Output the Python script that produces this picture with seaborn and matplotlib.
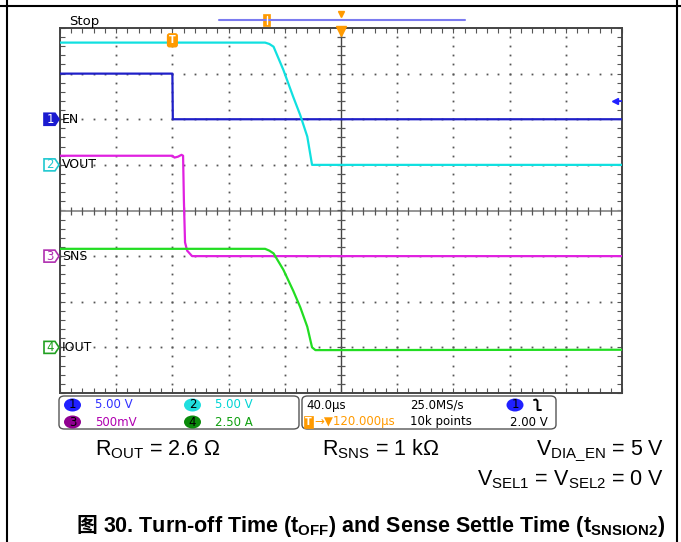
import numpy as np
import pandas as pd
import matplotlib
matplotlib.use("Agg")
import matplotlib.pyplot as plt
import matplotlib.transforms as mtransforms
from matplotlib.patches import FancyBboxPatch, Polygon, Rectangle, Ellipse
from matplotlib.lines import Line2D
import seaborn as sns

# ---------------- data (read from the oscilloscope capture) ----------------
channel_names = ["EN", "VOUT", "SNS", "IOUT"]
channel_numbers = ["1", "2", "3", "4"]
channel_scale_labels = ["5.00 V", "5.00 V", "500mV", "2.50 A"]
channel_scales = [5.0, 5.0, 0.5, 2.5]          # units per division
channel_ground_div = [2.0, 1.0, -1.0, -3.0]    # ground marker position (div)

time_en_us = [-80, 0, 0.3, 320]
en_v = [5.0, 5.0, 0.0, 0.0]

time_vout_us = [-80, 62, 66, 69, 72, 79, 86, 91, 96, 99.4, 320]
vout_v = [13.4, 13.4, 13.4, 13.25, 12.95, 10.4, 7.45, 5.45, 3.1, 0.0, 0.0]

time_sns_us = [-80, 0, 1.5, 4, 6.5, 7.6, 8.2, 9.0, 10.5, 14, 320]
sns_v = [1.10, 1.10, 1.08, 1.09, 1.11, 1.10, 0.60, 0.15, 0.06, 0.0, 0.0]

time_iout_us = [-80, 62, 66, 69, 72, 79, 86, 91, 96, 99.4, 101.8, 320]
iout_a = [5.4, 5.4, 5.4, 5.3, 5.15, 4.25, 3.1, 2.2, 1.13, 0.0, -0.15, -0.13]

time_per_div_us = 40.0
trigger_pos_us = 120.0
trigger_level_v = 2.0
x_range_us = [-80, 320]

info_right_row1 = ["40.0µs", "25.0MS/s", "2.00 V"]
info_right_row2 = ["→▼120.000µs", "10k points"]
cond_left = r"R$_{\mathrm{OUT}}$ = 2.6 Ω"
cond_mid = r"R$_{\mathrm{SNS}}$ = 1 kΩ"
cond_right1 = r"V$_{\mathrm{DIA\_EN}}$ = 5 V"
cond_right2 = r"V$_{\mathrm{SEL1}}$ = V$_{\mathrm{SEL2}}$ = 0 V"
caption_cjk = "图"
caption_rest = r"30. Turn-off Time (t$_{\mathbf{OFF}}$) and Sense Settle Time (t$_{\mathbf{SNSION2}}$)"

trace_colors = ["#1f1fc8", "#10e0e0", "#e020e0", "#22dd22"]
marker_colors = ["#1a1ad0", "#20c8d0", "#b030b0", "#20a020"]
panel_text_colors = ["#3030ff", "#00d4d4", "#b000b0", "#10a010"]
panel_circle_colors = ["#2020ff", "#20dede", "#900090", "#0a8a0a"]
orange = "#ff9a00"

# ---------------- style ----------------
sns.set_style("white")
plt.rcParams["font.family"] = ["DejaVu Sans"]
plt.rcParams["mathtext.fontset"] = "custom"
plt.rcParams["mathtext.rm"] = "Liberation Sans"
plt.rcParams["mathtext.it"] = "Liberation Sans:italic"
plt.rcParams["mathtext.bf"] = "Liberation Sans:bold"

W, H = 681, 542
fig = plt.figure(figsize=(W / 100, H / 100), dpi=100)
fig.patch.set_facecolor("white")


def fx(px):
    return px / W


def fy(py):
    return 1 - py / H


ax = fig.add_axes([fx(60), fy(393), 562 / W, 365 / H])
ax.set_facecolor("white")
ax.set_xlim(*x_range_us)
ax.set_ylim(-4, 4)

# ---------------- graticule ----------------
sub_x = np.arange(x_range_us[0], x_range_us[1] + 0.01, time_per_div_us / 5)
sub_y = np.arange(-4, 4.01, 0.2)
for gx in np.arange(x_range_us[0] + time_per_div_us, x_range_us[1], time_per_div_us):
    if abs(gx - trigger_pos_us) < 1e-6:
        continue
    ax.plot(np.full(len(sub_y), gx), sub_y, ls="none", marker="s", ms=1.3,
            mew=0, color="#555555", zorder=1)
for gy in range(-3, 4):
    if gy == 0:
        continue
    ax.plot(sub_x, np.full(len(sub_x), gy), ls="none", marker="s", ms=1.3,
            mew=0, color="#555555", zorder=1)

ax.axhline(0, color="#8c8c8c", lw=1.3, zorder=1)
ax.axvline(trigger_pos_us, color="#444444", lw=1.0, zorder=1)
ax.plot(sub_x, np.zeros(len(sub_x)), ls="none", marker="|", ms=6, mew=0.9,
        color="#555555", zorder=1)
ax.plot(np.full(len(sub_y), trigger_pos_us), sub_y, ls="none", marker="_",
        ms=6, mew=0.9, color="#555555", zorder=1)

ax.set_xticks(sub_x)
ax.set_yticks(sub_y)
ax.tick_params(which="both", direction="in", length=3.5, width=0.8,
               color="#555555", top=True, right=True, bottom=True, left=True,
               labelleft=False, labelbottom=False)
for sp in ax.spines.values():
    sp.set_color("#444444")
    sp.set_linewidth(1.4)
    sp.set_visible(True)
ax.grid(False)

# ---------------- traces ----------------
series = [
    (time_en_us, en_v),
    (time_vout_us, vout_v),
    (time_sns_us, sns_v),
    (time_iout_us, iout_a),
]
frames = []
for i, (t, v) in enumerate(series):
    v = np.asarray(v, dtype=float)
    frames.append(pd.DataFrame({
        "channel": channel_names[i],
        "time": t,
        "value": v,
        "div": v / channel_scales[i] + channel_ground_div[i],
    }))
df = pd.concat(frames, ignore_index=True)

for i, name in enumerate(channel_names):
    sub = df[df["channel"] == name]
    sns.lineplot(data=sub, x="time", y="div", ax=ax, color=trace_colors[i],
                 estimator=None, sort=False, lw=1.6, zorder=3 + i,
                 legend=False)
ax.set_xlabel("")
ax.set_ylabel("")

# trigger level marker (right edge, channel 1)
trig_div = trigger_level_v / channel_scales[0] + channel_ground_div[0]
ax.plot([x_range_us[1] - 5, x_range_us[1]], [trig_div, trig_div],
        color="#2020ff", lw=1.2, zorder=6)
ax.plot([x_range_us[1] - 5], [trig_div], marker="<", ms=5, color="#2020ff",
        zorder=6, clip_on=False)

# trigger position marker at top of graticule
ax.plot([trigger_pos_us], [3.93], marker="v", ms=7, color=orange,
        zorder=7, clip_on=False)

# T marker at trigger time on the VOUT trace
t_div = vout_v[0] / channel_scales[1] + channel_ground_div[1]
ax.text(0, t_div + 0.05, "T", color="white", fontsize=7, fontweight="bold",
        ha="center", va="center", zorder=8,
        bbox=dict(boxstyle="round,pad=0.15,rounding_size=0.2", fc=orange,
                  ec=orange))

# ---------------- channel ground markers ----------------
blend = mtransforms.blended_transform_factory(fig.transFigure, ax.transData)
for i, name in enumerate(channel_names):
    c = channel_ground_div[i]
    hd = 6 / (365 / 8)
    pts = [(fx(44), c - hd), (fx(55), c - hd), (fx(59), c),
           (fx(55), c + hd), (fx(44), c + hd)]
    filled = i == 0
    poly = Polygon(pts, closed=True, transform=blend,
                   fc=marker_colors[i] if filled else "white",
                   ec=marker_colors[i], lw=1.2, clip_on=False, zorder=9)
    fig.add_artist(poly)
    fig.text(fx(50), c, channel_numbers[i], transform=blend, fontsize=8.5,
             ha="center", va="center",
             color="white" if filled else marker_colors[i], zorder=10)
    fig.text(fx(62), c, name, transform=blend, fontsize=9, ha="left",
             va="center", color="black", zorder=10)

# ---------------- top status area ----------------
fig.text(fx(69), fy(25), "Stop", fontsize=9.5, ha="left", va="baseline",
         color="black")
fig.add_artist(Line2D([fx(219), fx(465)], [fy(20), fy(20)], color="#7b7bf0",
                      lw=1.5))
fig.add_artist(Rectangle((fx(263), fy(26)), 7 / W, 12 / H, fc=orange,
                         ec=orange, lw=0.5))
fig.add_artist(Line2D([fx(266.5), fx(266.5)], [fy(24), fy(16)], color="white",
                      lw=1.0))
fig.add_artist(Line2D([fx(341)], [fy(14)], marker="v", ms=5, color=orange,
                      ls="none"))

# ---------------- bottom info panel ----------------
for (x0, x1) in [(59, 299), (302, 556)]:
    fig.add_artist(FancyBboxPatch((fx(x0), fy(429)), (x1 - x0) / W, 33 / H,
                                  boxstyle="round,pad=0,rounding_size=0.008",
                                  fc="white", ec="#555555", lw=1.0))

rows_y = [405, 422]
slots = [(72.5, 95, 0, 0), (192.5, 215, 1, 0), (72.5, 95, 2, 1), (192.5, 215, 3, 1)]
for cx, tx, ch, r in slots:
    yy = rows_y[r]
    fig.add_artist(Ellipse((fx(cx), fy(yy)), 17 / W, 13 / H,
                           fc=panel_circle_colors[ch], ec="none"))
    fig.text(fx(cx), fy(yy), channel_numbers[ch], fontsize=8.5, ha="center",
             va="center", color="black")
    fig.text(fx(tx), fy(yy), channel_scale_labels[ch], fontsize=8.5,
             ha="left", va="center", color=panel_text_colors[ch])

fig.text(fx(306), fy(rows_y[0]), info_right_row1[0], fontsize=8.5, ha="left",
         va="center", color="black")
fig.text(fx(410), fy(rows_y[0]), info_right_row1[1], fontsize=8.5, ha="left",
         va="center", color="black")
fig.add_artist(Ellipse((fx(515), fy(rows_y[0])), 17 / W, 13 / H,
                       fc="#2020ff", ec="none"))
fig.text(fx(515), fy(rows_y[0]), "1", fontsize=8.5, ha="center", va="center",
         color="black")
fig.add_artist(Line2D([fx(534), fx(536), fx(537.5), fx(537.5), fx(541)],
                      [fy(400), fy(399.5), fy(401), fy(410), fy(410)],
                      color="black", lw=1.4))
fig.text(fx(548), fy(rows_y[1]), info_right_row1[2], fontsize=8.5, ha="right",
         va="center", color="black")

fig.add_artist(Rectangle((fx(304), fy(428)), 9 / W, 12 / H, fc=orange,
                         ec=orange, lw=0.5))
fig.text(fx(308.5), fy(rows_y[1]), "T", fontsize=7, fontweight="bold",
         ha="center", va="center", color="white")
fig.text(fx(314), fy(rows_y[1]), info_right_row2[0], fontsize=8.5, ha="left",
         va="center", color=orange)
fig.text(fx(410), fy(rows_y[1]), info_right_row2[1], fontsize=8.5, ha="left",
         va="center", color="black")

# ---------------- test conditions ----------------
cond_font = dict(family="Liberation Sans", fontsize=15.5, color="black",
                 va="baseline")
fig.text(fx(95), fy(455), cond_left, ha="left", **cond_font)
fig.text(fx(322), fy(455), cond_mid, ha="left", **cond_font)
fig.text(fx(664), fy(455), cond_right1, ha="right", **cond_font)
fig.text(fx(664), fy(485), cond_right2, ha="right", **cond_font)

# ---------------- caption ----------------
fig.text(fx(77), fy(532), caption_cjk, family=["Noto Sans CJK SC", "DejaVu Sans"],
         fontweight="bold", fontsize=15, ha="left", va="baseline",
         color="black")
fig.text(fx(103), fy(532), caption_rest, family="Liberation Sans",
         fontweight="bold", fontsize=15.5, ha="left", va="baseline",
         color="black")

# ---------------- page frame ----------------
fig.add_artist(Line2D([0, 1], [fy(6), fy(6)], color="black", lw=1.5))
fig.add_artist(Line2D([fx(7), fx(7)], [0, 1], color="black", lw=1.5))
fig.add_artist(Line2D([fx(677), fx(677)], [0, 1], color="black", lw=1.5))

fig.savefig("out.png", dpi=100, facecolor="white")
